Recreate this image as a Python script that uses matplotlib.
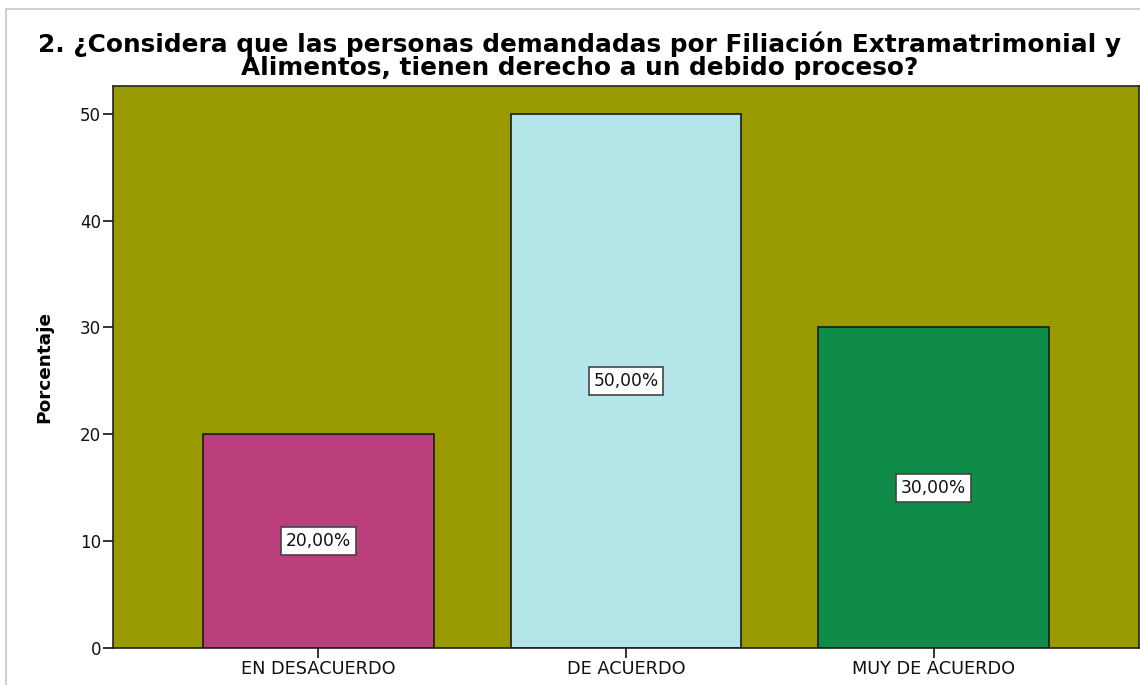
import matplotlib.pyplot as plt
from matplotlib.patches import Rectangle

categorias = ["EN DESACUERDO", "DE ACUERDO", "MUY DE ACUERDO"]
porcentajes = [20.0, 50.0, 30.0]
etiquetas = ["20,00%", "50,00%", "30,00%"]
colores = ["#BA3F7C", "#B4E5E8", "#108C49"]

plt.rcParams["font.family"] = ["DejaVu Sans"]

W, H = 1140, 685
fig = plt.figure(figsize=(W / 100, H / 100), dpi=100)

# marco gris de la figura
fig.patches.append(Rectangle((6 / W, -0.01), 1.02, 1 - 9 / H + 0.01,
                             transform=fig.transFigure, fill=False,
                             edgecolor="#D0D0D0", linewidth=1.5))

ax = fig.add_axes([113 / W, 1 - 648 / H, (1139 - 113) / W, (648 - 86) / H])
ax.set_facecolor("#999900")

x = range(len(categorias))
ax.bar(x, porcentajes, width=0.75, color=colores, edgecolor="#1a1a1a", linewidth=1.2, zorder=2)

for i, (v, t) in enumerate(zip(porcentajes, etiquetas)):
    ax.text(i, v / 2, t, ha="center", va="center", fontsize=12.3, color="#111111", zorder=3,
            bbox=dict(boxstyle="square,pad=0.28", facecolor="white", edgecolor="#444444", linewidth=1.2))

ax.set_xlim(-0.667, 2.667)
ax.set_ylim(0, 52.6)
ax.set_yticks([0, 10, 20, 30, 40, 50])
ax.set_xticks(list(x))
ax.set_xticklabels(categorias)
ax.tick_params(axis="x", labelsize=12.8, colors="#111111", length=7.5, width=1.2, pad=1.5)
ax.tick_params(axis="y", labelsize=12, colors="#111111", length=7.5, width=1.2, pad=1)
for s in ax.spines.values():
    s.set_linewidth(1.2)
    s.set_color("#222222")

ax.set_ylabel("Porcentaje", fontsize=13.3, fontweight="bold", labelpad=19)
fig.text(580 / W, 1 - 52 / H,
         "2. ¿Considera que las personas demandadas por Filiación Extramatrimonial y",
         ha="center", va="baseline", fontsize=17.8, fontweight="bold")
fig.text(580 / W, 1 - 75 / H,
         "Alimentos, tienen derecho a un debido proceso?",
         ha="center", va="baseline", fontsize=17.8, fontweight="bold")

plt.savefig("out.png", dpi=100)
